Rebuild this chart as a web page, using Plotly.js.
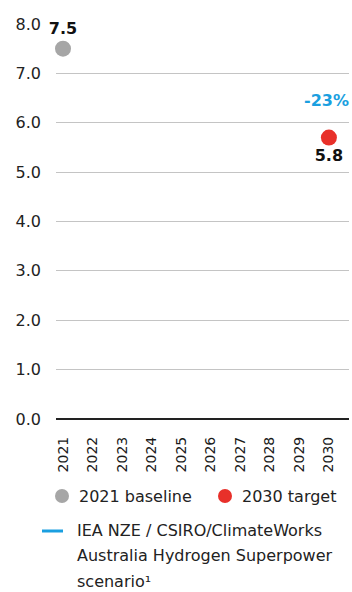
<!DOCTYPE html>
<html><head><meta charset="utf-8">
<script src="https://cdn.plot.ly/plotly-3.0.1.min.js"></script>
<style>html,body{margin:0;padding:0;background:#fff}#chart{width:352px;height:592px}</style>
</head><body><div id="chart"></div>
<script>
const years = [2021,2022,2023,2024,2025,2026,2027,2028,2029,2030];
const pointYears = [2021, 2030];
const pointValues = [7.5, 5.7];
const pointLabels = ['7.5', '5.8'];
const pointNames = ['2021 baseline', '2030 target'];
const pointColors = ['#a6a6a6', '#e8302a'];
const changeLabel = '-23%';
const yTicks = [0,1,2,3,4,5,6,7,8];
const scenarioName = ['IEA NZE / CSIRO/ClimateWorks', 'Australia Hydrogen Superpower', 'scenario\u00B9'];

const W = 352, H = 592, L = 56, R = 3, T = 24, B = 173;
const pw = W - L - R, ph = H - T - B;
const px = x => (x - L) / pw;
const py = y => (H - B - y) / ph;
const FONT = 'DejaVu Sans';

const trace = {
  x: pointYears, y: pointValues, type: 'scatter', mode: 'markers+text',
  marker: {size: 16, color: pointColors},
  text: pointLabels.map(s => '<b>' + s + '</b>'),
  textposition: ['top center', 'bottom center'],
  textfont: {family: FONT, size: 16, color: '#111'},
  showlegend: false, hoverinfo: 'skip', cliponaxis: false
};

const shapes = [];
const annotations = [];
annotations.push({x: pointYears[1], y: pointValues[1], xref: 'x', yref: 'y', yshift: 37, xshift: -2,
  text: '<b>' + changeLabel + '</b>', showarrow: false, font: {family: FONT, size: 16, color: '#1a9fe0'}});
const legItems = [[62, 77], [225, 240]];
legItems.forEach((p, i) => {
  shapes.push({type: 'circle', xref: 'paper', yref: 'paper', xsizemode: 'pixel', ysizemode: 'pixel',
    xanchor: px(p[0]), yanchor: py(496), x0: -7, x1: 7, y0: -7, y1: 7,
    fillcolor: pointColors[i], line: {width: 0}});
  annotations.push({xref: 'paper', yref: 'paper', x: px(p[1]), y: py(496), xanchor: 'left', yanchor: 'middle',
    text: pointNames[i], showarrow: false, font: {family: FONT, size: 16, color: '#222'}});
});
shapes.push({type: 'line', xref: 'paper', yref: 'paper', x0: px(42), x1: px(63), y0: py(531), y1: py(531),
  line: {color: '#1a9fe0', width: 3}});
scenarioName.forEach((s, i) => {
  annotations.push({xref: 'paper', yref: 'paper', x: px(76), y: py(530 + i * 25.5), xanchor: 'left', yanchor: 'middle',
    text: s, showarrow: false, font: {family: FONT, size: 16, color: '#222'}, borderpad: 0});
});

const layout = {
  width: W, height: H, margin: {l: L, r: R, t: T, b: B},
  paper_bgcolor: '#fff', plot_bgcolor: '#fff', showlegend: false,
  xaxis: {range: [2020.763, 2030.68], tickvals: years, ticktext: years.map(String), tickangle: -90,
    showgrid: false, zeroline: false, showline: false, ticks: '', ticklabelstandoff: 14,
    tickfont: {family: FONT, size: 14, color: '#1a1a1a'}, fixedrange: true},
  yaxis: {range: [0, 8], tickvals: yTicks, ticktext: yTicks.map(v => v.toFixed(1)),
    showgrid: true, gridcolor: '#c4c4c4', gridwidth: 1, zeroline: true, zerolinecolor: '#222', zerolinewidth: 1.5,
    showline: false, ticks: '', ticklabelstandoff: 14,
    tickfont: {family: FONT, size: 16, color: '#222'}, fixedrange: true},
  shapes: shapes, annotations: annotations
};
Plotly.newPlot('chart', [trace], layout, {displayModeBar: false, staticPlot: true});
</script></body></html>
